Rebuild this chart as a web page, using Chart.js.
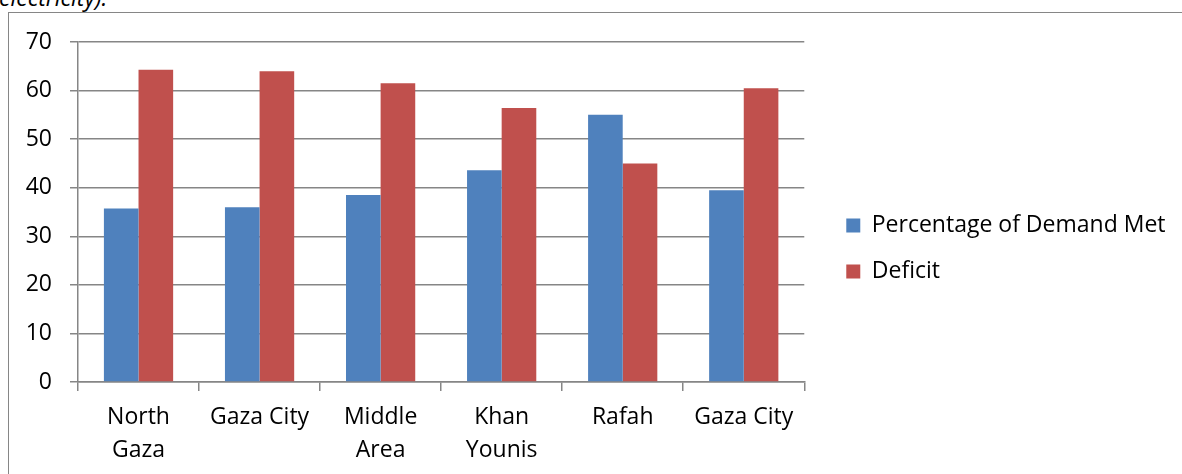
<!DOCTYPE html>
<html>
<head>
<meta charset="utf-8">
<script src="https://cdn.jsdelivr.net/npm/chart.js@4/dist/chart.umd.min.js"></script>
<style>
  html, body { margin:0; padding:0; background:#fff; width:1182px; height:474px; overflow:hidden; }
  #caption { position:absolute; left:-1px; top:-14px; font-family:"Open Sans", sans-serif; font-style:italic; font-size:23px; line-height:23px; color:#000; white-space:nowrap; }
  #frame { position:absolute; left:8px; top:12px; width:1200px; height:500px; border-left:1px solid #868686; border-top:1px solid #868686; }
  #wrap { position:absolute; left:0; top:0; width:1182px; height:474px; }
</style>
</head>
<body>
<div id="caption">electricity).</div>
<div id="frame"></div>
<div id="wrap"><canvas id="c"></canvas></div>
<script>
const categories = [["North","Gaza"], "Gaza City", ["Middle","Area"], ["Khan","Younis"], "Rafah", "Gaza City"];
const seriesNames = ["Percentage of Demand Met", "Deficit"];
const demandMet = [35.7, 36.0, 38.5, 43.6, 55.0, 39.5];
const deficit = [64.3, 64.0, 61.5, 56.4, 45.0, 60.5];
const yTicks = [0, 10, 20, 30, 40, 50, 60, 70];

const FONT = { family: '"Open Sans", sans-serif', size: 23 };
const GRID = '#868686';
const LW = 1.5;

// let the right-hand legend be as wide as its text needs
const legendWidthPlugin = {
  id: 'legendWidth',
  beforeLayout(chart) {
    const lg = chart.legend;
    if (lg && !lg._wPatched) {
      const orig = lg.update.bind(lg);
      lg.update = (w, h, m) => orig(Math.max(w, 420), h, m);
      lg._wPatched = true;
    }
  }
};

new Chart(document.getElementById('c'), {
  type: 'bar',
  data: {
    labels: categories,
    datasets: [
      { label: seriesNames[0], data: demandMet, backgroundColor: '#4F81BD', borderWidth: 0 },
      { label: seriesNames[1], data: deficit, backgroundColor: '#C0504D', borderWidth: 0 }
    ]
  },
  plugins: [legendWidthPlugin],
  options: {
    responsive: true,
    maintainAspectRatio: false,
    animation: false,
    datasets: { bar: { categoryPercentage: 0.572, barPercentage: 1.0 } },
    layout: { padding: { top: 30, right: 6.5, bottom: 7, left: 0 } },
    plugins: {
      tooltip: { enabled: false },
      legend: {
        position: 'right',
        align: 'center',
        labels: { boxWidth: 14, boxHeight: 14, padding: 23, color: '#000', font: FONT }
      }
    },
    scales: {
      x: {
        grid: { display: true, drawOnChartArea: false, drawTicks: true, tickLength: 9, color: GRID, lineWidth: LW, offset: true },
        border: { color: GRID, width: LW },
        ticks: { color: '#000', font: { ...FONT, lineHeight: 33 / 23 }, padding: 10, maxRotation: 0, autoSkip: false },
        afterFit: s => { s.height = 85; }
      },
      xTop: {
        type: 'linear',
        position: 'top',
        display: true,
        grid: { display: false },
        border: { display: false },
        ticks: { display: false },
        afterFit: s => { s.height = 12; }
      },
      y: {
        min: yTicks[0],
        max: yTicks[yTicks.length - 1],
        afterBuildTicks: s => { s.ticks = yTicks.map(v => ({ value: v })); },
        grid: { color: GRID, tickLength: 8, lineWidth: LW },
        border: { color: GRID, width: LW },
        ticks: { color: '#000', font: FONT, padding: 18 },
        afterFit: s => { s.width = 78; }
      },
      yR: {
        type: 'linear',
        position: 'right',
        display: true,
        grid: { display: false },
        border: { display: false },
        ticks: { display: false },
        afterFit: s => { s.width = 19; }
      }
    }
  }
});
</script>
</body>
</html>
